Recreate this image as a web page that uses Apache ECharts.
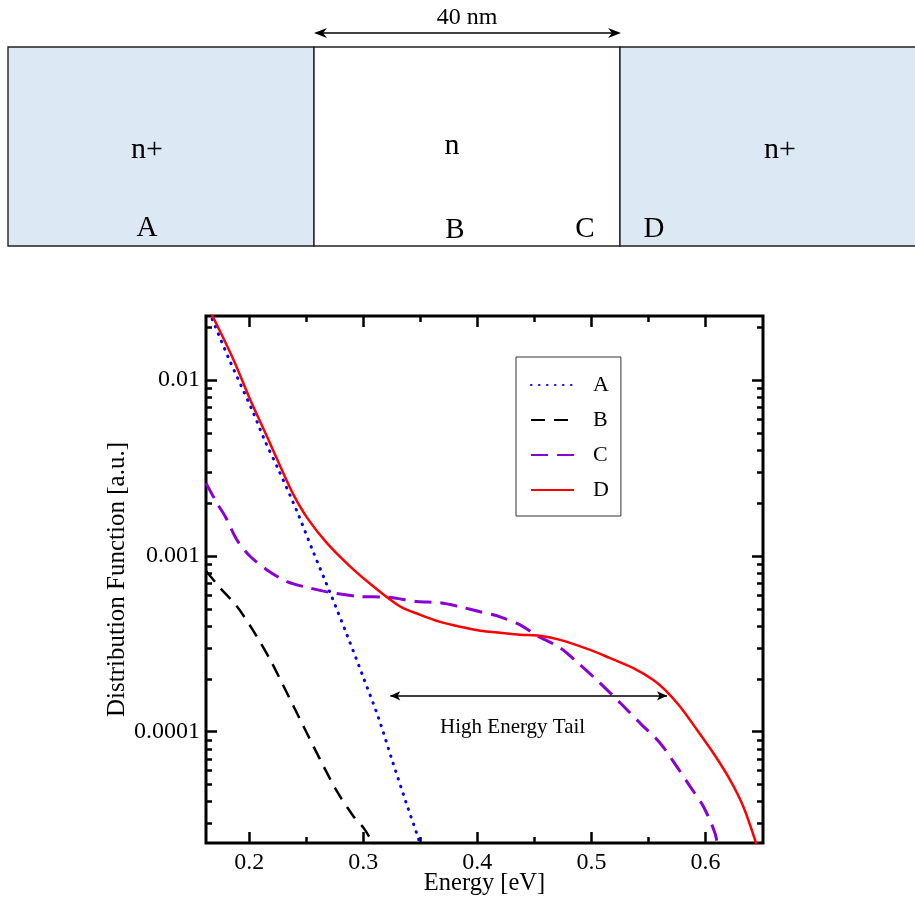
<!DOCTYPE html>
<html>
<head>
<meta charset="utf-8">
<title>Distribution Function</title>
<script src="https://cdn.jsdelivr.net/npm/echarts@6.0.0/dist/echarts.min.js"></script>
<style>
    html, body { margin: 0; padding: 0; background: #fff; }
    #chart { width: 915px; height: 897px; }
</style>
</head>
<body>
<div id="chart"></div>
<script>
// curve A (n+ source), dotted blue
const energyA = [0.1620, 0.1702, 0.1819, 0.2024, 0.2140, 0.2257, 0.2418, 0.2564, 0.2710, 0.2856, 0.3002, 0.3133, 0.3251, 0.3376, 0.3475, 0.3555];
const valuesA = [0.0269, 0.0201, 0.01328, 0.00676, 0.00446, 0.00308, 0.00179, 0.00104, 0.000614, 0.000356, 0.000202, 0.000120, 0.0000693, 0.0000394, 0.0000256, 0.0000178];

// curve B (channel middle), dashed black
const energyB = [0.1620, 0.1746, 0.1892, 0.2038, 0.2184, 0.2330, 0.2476, 0.2622, 0.2769, 0.2914, 0.3002, 0.3075, 0.3120];
const valuesB = [0.00082, 0.000655, 0.000515, 0.000372, 0.000256, 0.000166, 0.000107, 0.0000693, 0.0000458, 0.0000330, 0.0000284, 0.0000238, 0.0000210];

// curve C (channel end), long-dashed purple
const energyC = [0.1620, 0.1717, 0.1790, 0.1892, 0.2009, 0.2155, 0.2330, 0.2535, 0.2739, 0.2973, 0.3207, 0.3470, 0.3674, 0.3849, 0.4025, 0.4200, 0.4375, 0.4522, 0.4726, 0.4901, 0.5076, 0.5252, 0.5427, 0.5602, 0.5748, 0.5865, 0.5982, 0.6084, 0.6115];
const valuesC = [0.00259, 0.00199, 0.00167, 0.00123, 0.000991, 0.000832, 0.000714, 0.000655, 0.000614, 0.000587, 0.000582, 0.000550, 0.000541, 0.000513, 0.000481, 0.000450, 0.000405, 0.000352, 0.000300, 0.000240, 0.000189, 0.000146, 0.000112, 0.0000863, 0.0000635, 0.0000489, 0.0000376, 0.0000265, 0.0000210];

// curve D (n+ drain), solid red
const energyD = [0.1620, 0.1673, 0.1862, 0.2009, 0.2155, 0.2272, 0.2388, 0.2506, 0.2681, 0.2885, 0.3089, 0.3323, 0.3499, 0.3674, 0.3849, 0.4025, 0.4200, 0.4375, 0.4550, 0.4726, 0.4989, 0.5164, 0.5368, 0.5543, 0.5646, 0.5777, 0.5924, 0.6069, 0.6216, 0.6332, 0.6435, 0.6465];
const valuesD = [0.0270, 0.0234, 0.0130, 0.00769, 0.00477, 0.00322, 0.00222, 0.00165, 0.00118, 0.000869, 0.000669, 0.000515, 0.000462, 0.000421, 0.000395, 0.000375, 0.000365, 0.000356, 0.000351, 0.000333, 0.000292, 0.000262, 0.000230, 0.000197, 0.000173, 0.000139, 0.000103, 0.0000757, 0.0000533, 0.0000376, 0.0000243, 0.0000205];

const seriesNames = ['A', 'B', 'C', 'D'];

// axes
const xMin = 0.162;
const xMax = 0.6505;
const yMin = 0.0000233;
const yMax = 0.0231;
const xMajorTicks = [0.2, 0.3, 0.4, 0.5, 0.6];
const xMinorTicks = [0.25, 0.35, 0.45, 0.55];
const yMajorTicks = [0.0001, 0.001, 0.01];
const yMinorTicks = [
    0.00003, 0.00004, 0.00005, 0.00006, 0.00007, 0.00008, 0.00009,
    0.0002, 0.0003, 0.0004, 0.0005, 0.0006, 0.0007, 0.0008, 0.0009,
    0.002, 0.003, 0.004, 0.005, 0.006, 0.007, 0.008, 0.009,
    0.02
];

// high energy tail arrow
const tailFrom = 0.3236;
const tailTo = 0.5663;
const tailLevel = 0.000160;

const FONT = '"Liberation Serif", "DejaVu Serif", serif';

const zip = (xs, ys) => xs.map((x, i) => [x, ys[i]]);

const tickAxis = (extra, ticks, length, labels) => Object.assign({
    axisLine: { show: false, onZero: false },
    splitLine: { show: false },
    nameMoveOverlap: false,
    axisTick: {
        inside: true,
        length: length,
        customValues: ticks,
        lineStyle: { color: '#000', width: 2.5 }
    },
    axisLabel: labels ? Object.assign({ customValues: ticks }, labels) : { show: false }
}, extra);

const xLabel = {
    margin: 8,
    color: '#000',
    fontFamily: FONT,
    fontSize: 24,
    formatter: v => v.toFixed(1)
};
const yLabel = {
    margin: 6,
    color: '#000',
    fontFamily: FONT,
    fontSize: 24,
    formatter: v => v.toPrecision(1)
};

const xBase = { type: 'value', min: xMin, max: xMax };
const yBase = { type: 'log', logBase: 10, min: yMin, max: yMax };

const stroke = '#222';
const diagram = [
    { type: 'rect', shape: { x: 8, y: 47, width: 306, height: 199 }, style: { fill: '#dce8f4', stroke: stroke, lineWidth: 1.4 } },
    { type: 'rect', shape: { x: 314, y: 47, width: 306, height: 199 }, style: { fill: '#fff', stroke: stroke, lineWidth: 1.4 } },
    { type: 'rect', shape: { x: 620, y: 47, width: 320, height: 199 }, style: { fill: '#dce8f4', stroke: stroke, lineWidth: 1.4 } },
    { type: 'line', shape: { x1: 318, y1: 33, x2: 617, y2: 33 }, style: { stroke: '#000', lineWidth: 1.4 } },
    { type: 'polygon', shape: { points: [[314, 33], [327, 28], [323, 33], [327, 38]] }, style: { fill: '#000' } },
    { type: 'polygon', shape: { points: [[621, 33], [608, 28], [612, 33], [608, 38]] }, style: { fill: '#000' } },
    { type: 'text', style: { text: '40 nm', x: 467, y: 18, align: 'center', verticalAlign: 'middle', font: '24px ' + FONT, fill: '#000' } },
    { type: 'text', style: { text: 'n+', x: 147, y: 150, align: 'center', verticalAlign: 'middle', font: '30px ' + FONT, fill: '#000' } },
    { type: 'text', style: { text: 'n', x: 452, y: 146, align: 'center', verticalAlign: 'middle', font: '30px ' + FONT, fill: '#000' } },
    { type: 'text', style: { text: 'n+', x: 780, y: 150, align: 'center', verticalAlign: 'middle', font: '30px ' + FONT, fill: '#000' } },
    { type: 'text', style: { text: 'A', x: 147, y: 228, align: 'center', verticalAlign: 'middle', font: '29px ' + FONT, fill: '#000' } },
    { type: 'text', style: { text: 'B', x: 455, y: 230, align: 'center', verticalAlign: 'middle', font: '29px ' + FONT, fill: '#000' } },
    { type: 'text', style: { text: 'C', x: 585, y: 229, align: 'center', verticalAlign: 'middle', font: '29px ' + FONT, fill: '#000' } },
    { type: 'text', style: { text: 'D', x: 654, y: 229, align: 'center', verticalAlign: 'middle', font: '29px ' + FONT, fill: '#000' } }
];

const chart = echarts.init(document.getElementById('chart'), null, { renderer: 'canvas' });

chart.setOption({
    backgroundColor: '#fff',
    animation: false,
    textStyle: { fontFamily: FONT },
    graphic: diagram,
    grid: {
        left: 206,
        top: 316,
        right: 152,
        bottom: 54,
        outerBoundsMode: 'none',
        containLabel: false,
        show: true,
        borderColor: '#000',
        borderWidth: 3,
        backgroundColor: 'transparent'
    },
    legend: {
        data: seriesNames,
        orient: 'vertical',
        left: 516,
        top: 357,
        padding: [17, 12, 15, 14],
        itemGap: 13,
        itemWidth: 43,
        itemHeight: 14,
        borderColor: '#333',
        borderWidth: 1,
        backgroundColor: '#fff',
        itemStyle: { opacity: 0 },
        textStyle: { color: '#000', fontFamily: FONT, fontSize: 22, padding: [0, 0, 0, 14] }
    },
    xAxis: [
        tickAxis(Object.assign({ position: 'bottom', name: 'Energy [eV]', nameLocation: 'middle', nameGap: 28,
            nameTextStyle: { color: '#000', fontFamily: FONT, fontSize: 24.5 } }, xBase), xMajorTicks, 11, xLabel),
        tickAxis(Object.assign({ position: 'bottom' }, xBase), xMinorTicks, 6),
        tickAxis(Object.assign({ position: 'top' }, xBase), xMajorTicks, 11),
        tickAxis(Object.assign({ position: 'top' }, xBase), xMinorTicks, 6)
    ],
    yAxis: [
        tickAxis(Object.assign({ position: 'left', name: 'Distribution Function [a.u.]', nameLocation: 'middle', nameGap: 76,
            nameTextStyle: { color: '#000', fontFamily: FONT, fontSize: 25 } }, yBase), yMajorTicks, 11, yLabel),
        tickAxis(Object.assign({ position: 'left' }, yBase), yMinorTicks, 6),
        tickAxis(Object.assign({ position: 'right' }, yBase), yMajorTicks, 11),
        tickAxis(Object.assign({ position: 'right' }, yBase), yMinorTicks, 6)
    ],
    series: [
        {
            name: 'A',
            type: 'line',
            data: zip(energyA, valuesA),
            symbol: 'none',
            smooth: 0.3,
            lineStyle: { color: '#0000ff', width: 3, type: [0.5, 7.5], cap: 'round' },
            itemStyle: { color: '#0000ff' }
        },
        {
            name: 'B',
            type: 'line',
            data: zip(energyB, valuesB),
            symbol: 'none',
            smooth: 0.3,
            lineStyle: { color: '#000', width: 2.5, type: [14, 9] },
            itemStyle: { color: '#000' }
        },
        {
            name: 'C',
            type: 'line',
            data: zip(energyC, valuesC),
            symbol: 'none',
            smooth: 0.3,
            lineStyle: { color: '#8a00d4', width: 3, type: [17, 9] },
            itemStyle: { color: '#8a00d4' }
        },
        {
            name: 'D',
            type: 'line',
            data: zip(energyD, valuesD),
            symbol: 'none',
            smooth: 0.3,
            lineStyle: { color: '#ff0000', width: 2.5 },
            itemStyle: { color: '#ff0000' },
            markLine: {
                silent: true,
                symbol: ['arrow', 'arrow'],
                symbolSize: [7, 10],
                lineStyle: { color: '#000', width: 1.5, type: 'solid' },
                label: {
                    show: true,
                    position: 'insideMiddleBottom',
                    distance: 21,
                    padding: [0, 32, 0, 0],
                    formatter: 'High Energy Tail',
                    color: '#000',
                    fontFamily: FONT,
                    fontSize: 21
                },
                data: [[{ coord: [tailFrom, tailLevel] }, { coord: [tailTo, tailLevel] }]]
            }
        }
    ]
});

window.addEventListener('resize', () => chart.resize());
</script>
</body>
</html>
